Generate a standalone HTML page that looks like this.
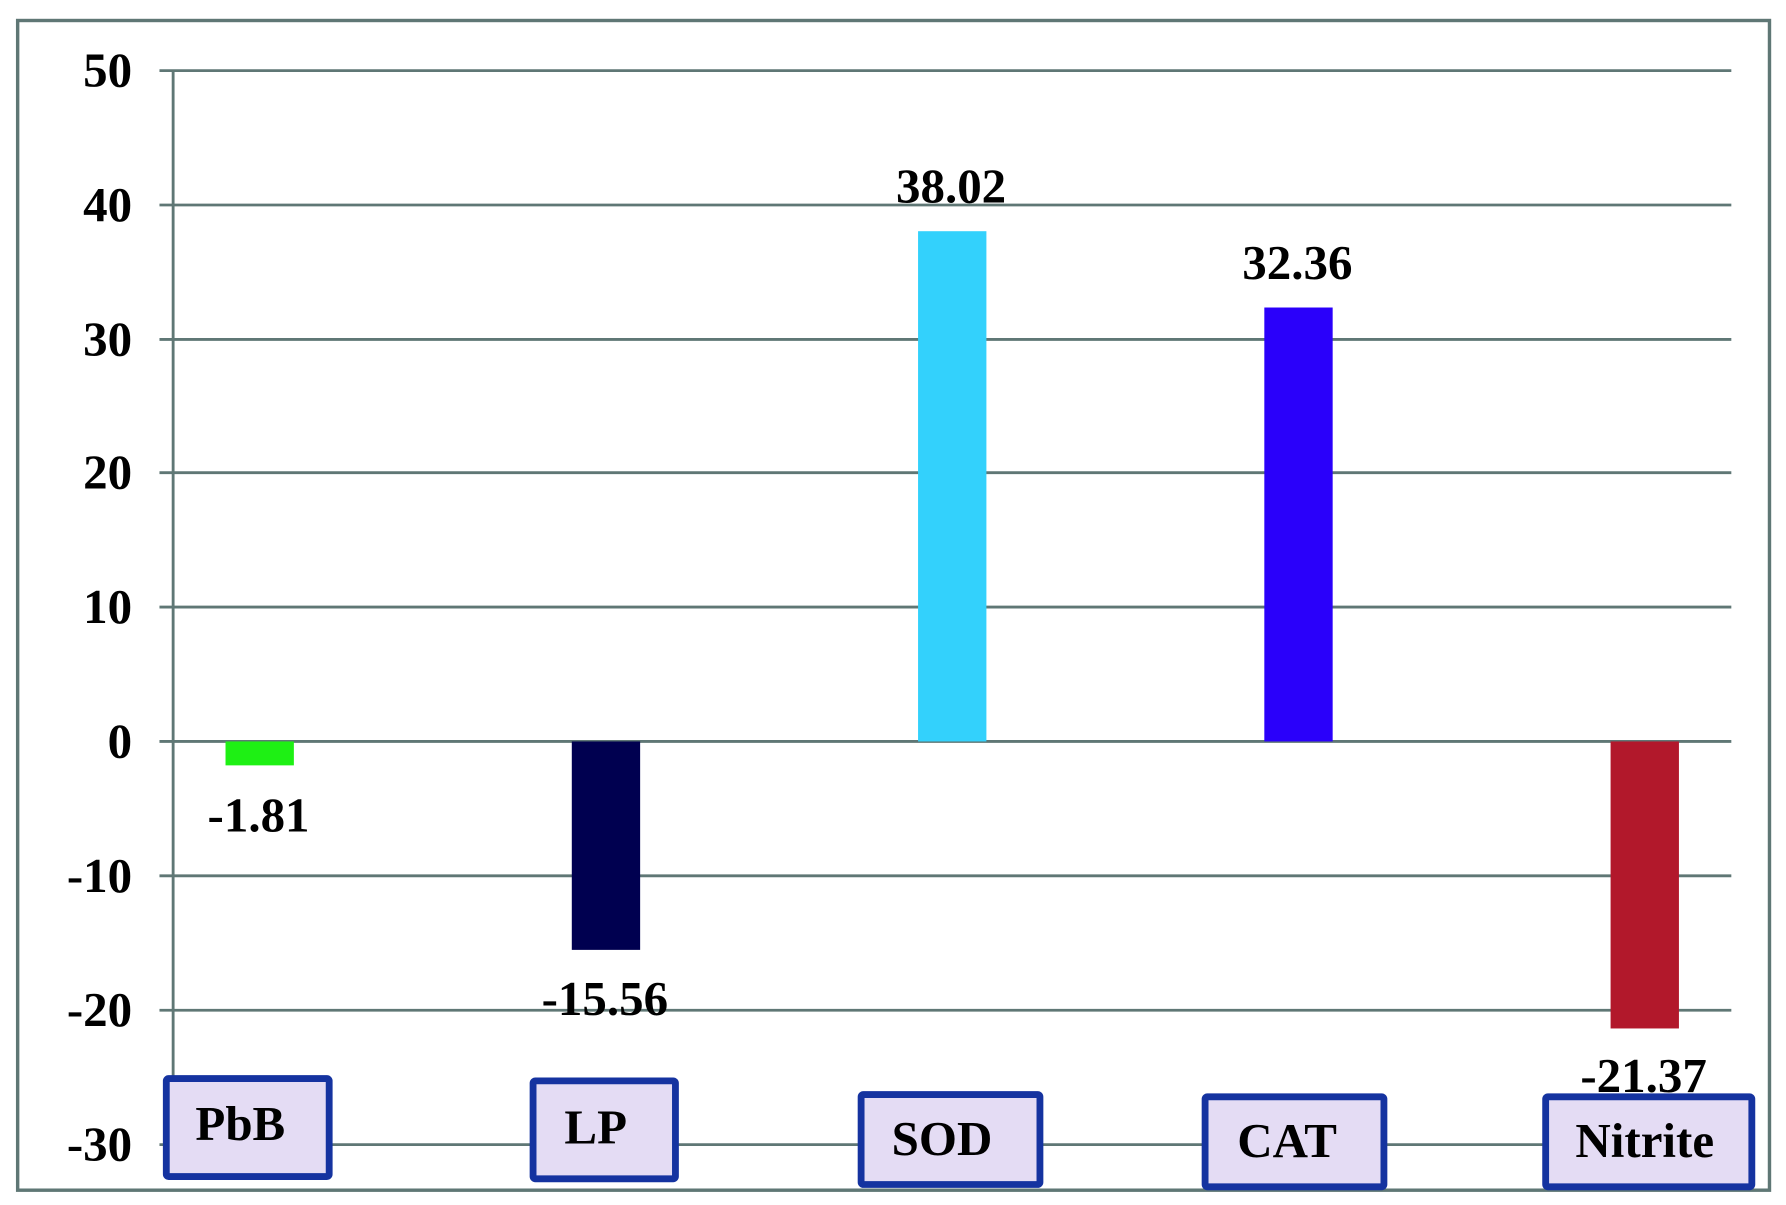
<!DOCTYPE html>
<html><head><meta charset="utf-8"><style>
html,body{margin:0;padding:0;background:#fff;}
svg{display:block;}
text{font-family:"Liberation Serif",serif;font-weight:bold;fill:#000;}
</style></head><body>
<svg width="1786" height="1205" viewBox="0 0 1568 1058" preserveAspectRatio="none">
<rect x="0" y="0" width="1568" height="1058" fill="#fff"/>
<rect x="15.5" y="18" width="1538" height="1027" fill="none" stroke="#5f7775" stroke-width="3"/>
<g stroke="#5f7775" stroke-width="2.5">
<line x1="140" y1="62" x2="1520" y2="62"/>
<line x1="140" y1="180" x2="1520" y2="180"/>
<line x1="140" y1="298" x2="1520" y2="298"/>
<line x1="140" y1="415" x2="1520" y2="415"/>
<line x1="140" y1="533" x2="1520" y2="533"/>
<line x1="140" y1="651" x2="1520" y2="651"/>
<line x1="140" y1="769" x2="1520" y2="769"/>
<line x1="140" y1="887" x2="1520" y2="887"/>
<line x1="140" y1="1005" x2="1520" y2="1005"/>
<line x1="152" y1="62" x2="152" y2="1005"/>
</g>
<g font-size="43" text-anchor="end">
<text x="116" y="76">50</text>
<text x="116" y="194">40</text>
<text x="116" y="312">30</text>
<text x="116" y="429">20</text>
<text x="116" y="547">10</text>
<text x="116" y="665">0</text>
<text x="116" y="783">-10</text>
<text x="116" y="901">-20</text>
<text x="116" y="1019">-30</text>
</g>
<rect x="198" y="651" width="60" height="21" fill="#1ef014"/>
<rect x="502" y="651" width="60" height="183" fill="#000050"/>
<rect x="806" y="203" width="60" height="448" fill="#33d1fc"/>
<rect x="1110" y="270" width="60" height="381" fill="#2a00fa"/>
<rect x="1414" y="651" width="60" height="252" fill="#b2182b"/>
<g font-size="43" text-anchor="middle">
<text x="227" y="730">-1.81</text>
<text x="531" y="891">-15.56</text>
<text x="835" y="178">38.02</text>
<text x="1139" y="245">32.36</text>
<text x="1443" y="959">-21.37</text>
</g>
<g fill="#e4dcf4" stroke="#1533a0" stroke-width="6">
<rect x="146" y="947" width="143" height="86" rx="2"/>
<rect x="468" y="949" width="125" height="86" rx="2"/>
<rect x="756" y="961" width="157" height="79" rx="2"/>
<rect x="1058" y="963" width="157" height="79" rx="2"/>
<rect x="1357" y="963" width="181" height="79" rx="2"/>
</g>
<g font-size="43" text-anchor="middle">
<text x="211" y="1001">PbB</text>
<text x="523" y="1004">LP</text>
<text x="827" y="1014">SOD</text>
<text x="1130" y="1016">CAT</text>
<text x="1444" y="1016">Nitrite</text>
</g>
</svg>
</body></html>
